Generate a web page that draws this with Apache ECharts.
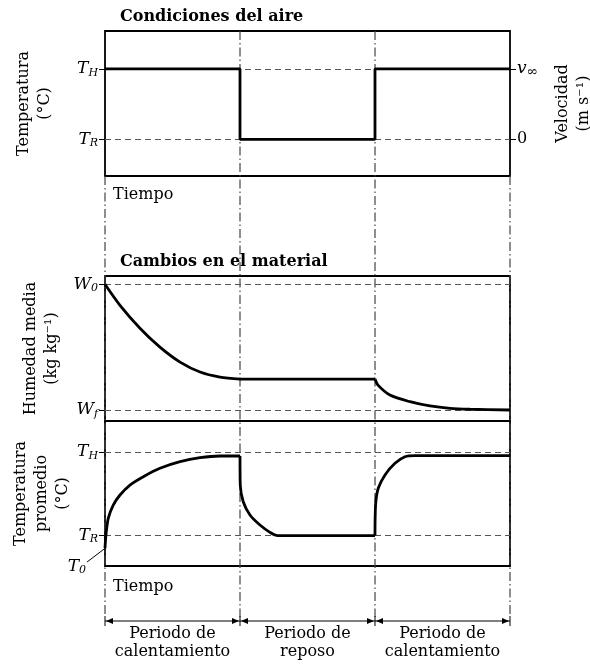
<!DOCTYPE html>
<html>
<head>
<meta charset="utf-8">
<script src="https://cdn.jsdelivr.net/npm/echarts@6/dist/echarts.min.js"></script>
<style>
  html, body { margin: 0; padding: 0; background: #fff; }
  #chart { width: 590px; height: 664px; }
</style>
</head>
<body>
<div id="chart"></div>
<script>
// time axis: one unit per period
const periodBounds = [0, 1, 2, 3];
const periodLabels = ['Periodo de\ncalentamiento', 'Periodo de\nreposo', 'Periodo de\ncalentamiento'];

// air conditions (1 = T_H / v∞, 0 = T_R / 0)
const airStep = [[0, 1], [1, 1], [1, 0], [2, 0], [2, 1], [3, 1]];

// mean moisture (1 = W0, 0 = Wf), one array per period
const moistureHeat1 = [
  [0, 1.0], [0.111, 0.833], [0.259, 0.651], [0.407, 0.5], [0.556, 0.381],
  [0.704, 0.302], [0.852, 0.262], [1, 0.246]
];
const moistureRest = [[1, 0.246], [2, 0.246]];
const moistureHeat2 = [
  [2, 0.246], [2.022, 0.198], [2.111, 0.119], [2.259, 0.066], [2.407, 0.032],
  [2.556, 0.013], [2.704, 0.006], [3, 0.0]
];

// mean material temperature (1 = T_H, 0 = T_R)
const t0Value = -0.15;
const tempHeat1 = [
  [0, t0Value], [0.007, 0.006], [0.024, 0.205], [0.061, 0.364], [0.111, 0.484],
  [0.185, 0.603], [0.284, 0.703], [0.407, 0.803], [0.556, 0.882], [0.704, 0.93],
  [0.852, 0.95], [1, 0.95]
];
const tempRest = [
  [1, 0.95], [1.002, 0.603], [1.024, 0.404], [1.074, 0.245], [1.148, 0.125],
  [1.222, 0.038], [1.28, 0], [2, 0]
];
const tempHeat2 = [
  [2, 0], [2.001, 0.2], [2.006, 0.4], [2.024, 0.564], [2.074, 0.723], [2.148, 0.863],
  [2.222, 0.941], [2.296, 0.955], [3, 0.955]
];

const FONT = 'DejaVu Serif';
const INK = '#000';
const GUIDE = '#555';

const chartDom = document.getElementById('chart');
const myChart = echarts.init(chartDom);

const rich = {
  i: { fontFamily: FONT, fontStyle: 'italic', fontSize: 17, color: INK },
  s: { fontFamily: FONT, fontStyle: 'italic', fontSize: 11, color: INK, padding: [8, 0, 0, 0] },
  inf: { fontFamily: FONT, fontSize: 14, color: INK, padding: [7, 0, 0, 0] },
  n: { fontFamily: FONT, fontSize: 16, color: INK }
};

const nameStyle = { fontFamily: FONT, fontSize: 16, color: INK, lineHeight: 21 };

function symLabel(a, b) {
  return (v) => v >= 0.5 ? a : b;
}

function yAxis(grid, min, max, name, gap, fmt, position) {
  return {
    type: 'value',
    gridIndex: grid,
    position: position || 'left',
    min: min,
    max: max,
    name: name,
    nameLocation: 'middle',
    nameRotate: 90,
    nameGap: gap,
    nameMoveOverlap: false,
    nameTextStyle: nameStyle,
    axisLine: { show: false },
    splitLine: { show: false },
    axisTick: { show: true, length: 6, customValues: [0, 1], lineStyle: { color: INK, width: 1 } },
    axisLabel: { customValues: [0, 1], margin: 7, formatter: fmt, rich: rich }
  };
}

function xAxis(grid) {
  return {
    type: 'value', gridIndex: grid, min: 0, max: 3,
    axisLine: { show: false }, axisTick: { show: false },
    axisLabel: { show: false }, splitLine: { show: false }
  };
}

function panel(top) {
  return {
    left: 105, width: 405, top: top, height: 145,
    show: true, borderColor: INK, borderWidth: 1.8,
    containLabel: false, outerBoundsMode: 'none'
  };
}

const dashed = {
  silent: true,
  symbol: ['none', 'none'],
  label: { show: false },
  lineStyle: { type: [6, 4], color: GUIDE, width: 1 },
  data: [{ yAxis: 1 }, { yAxis: 0 }],
  animation: false
};

function lineSeries(data, xi, yi, smooth, guides) {
  const s = {
    type: 'line', data: data, xAxisIndex: xi, yAxisIndex: yi,
    symbol: 'none', smooth: smooth,
    lineStyle: { color: INK, width: 2.8 },
    animation: false, z: 5
  };
  if (guides) s.markLine = dashed;
  return s;
}

const option = {
  animation: false,
  title: [
    { text: 'Condiciones del aire', left: 115, top: 4,
      textStyle: { fontFamily: FONT, fontWeight: 'bold', fontSize: 16, color: INK } },
    { text: 'Cambios en el material', left: 115, top: 249,
      textStyle: { fontFamily: FONT, fontWeight: 'bold', fontSize: 16, color: INK } }
  ],
  grid: [panel(31), panel(276), panel(421)],
  xAxis: [xAxis(0), xAxis(1), xAxis(2)],
  yAxis: [
    yAxis(0, -0.522, 1.54, 'Temperatura\n(°C)', 50, symLabel('{i|T}{s|H}', '{i|T}{s|R}')),
    yAxis(0, -0.522, 1.54, 'Velocidad\n(m s⁻¹)', 42, symLabel('{i|v}{inf|∞}', '{n|0}'), 'right'),
    yAxis(1, -0.0875, 1.066, 'Humedad media\n(kg kg⁻¹)', 43, symLabel('{i|W}{s|0}', '{i|W}{s|f}')),
    yAxis(2, -0.364, 1.368, 'Temperatura\npromedio\n(°C)', 32, symLabel('{i|T}{s|H}', '{i|T}{s|R}'))
  ],
  series: [
    lineSeries(airStep, 0, 0, false, true),
    lineSeries(moistureHeat1, 1, 2, 0.3, true),
    lineSeries(moistureRest, 1, 2, false, false),
    lineSeries(moistureHeat2, 1, 2, 0.3, false),
    lineSeries(tempHeat1, 2, 3, 0.3, true),
    lineSeries(tempRest, 2, 3, 0.3, false),
    lineSeries(tempHeat2, 2, 3, 0.3, false)
  ]
};

myChart.setOption(option);

// decorations placed from the axes: period separators, arrows, labels
const px = (g, x, y) => myChart.convertToPixel({ gridIndex: g }, [x, y]);
const topY = px(0, 0, 1.54)[1];
const panelBottom = px(0, 0, -0.522)[1];
const arrowY = 621;
const dashDot = { stroke: '#444', lineWidth: 1.2, lineDash: [9, 3, 1.5, 3] };
const textStyle = { fontFamily: FONT, fontSize: 16, fill: INK };

const graphics = [];
periodBounds.forEach((t) => {
  const x = px(2, t, 0)[0];
  const y1 = (t === 0 || t === 3) ? panelBottom : topY;
  graphics.push({ type: 'line', shape: { x1: x, y1: y1, x2: x, y2: arrowY - 4 }, style: dashDot, z: 1, silent: true });
  graphics.push({ type: 'line', shape: { x1: x, y1: arrowY - 5, x2: x, y2: arrowY + 5 }, style: { stroke: INK, lineWidth: 1 }, z: 3 });
});

for (let k = 0; k < periodLabels.length; k++) {
  const xa = px(2, periodBounds[k], 0)[0];
  const xb = px(2, periodBounds[k + 1], 0)[0];
  graphics.push({ type: 'line', shape: { x1: xa, y1: arrowY, x2: xb, y2: arrowY }, style: { stroke: INK, lineWidth: 1 }, z: 3 });
  graphics.push({ type: 'polygon', shape: { points: [[xa + 1, arrowY], [xa + 8, arrowY - 3], [xa + 8, arrowY + 3]] }, style: { fill: INK }, z: 3 });
  graphics.push({ type: 'polygon', shape: { points: [[xb - 1, arrowY], [xb - 8, arrowY - 3], [xb - 8, arrowY + 3]] }, style: { fill: INK }, z: 3 });
  graphics.push({
    type: 'text', x: (xa + xb) / 2, y: 643, z: 3,
    style: Object.assign({ text: periodLabels[k], align: 'center', verticalAlign: 'middle', lineHeight: 18 }, textStyle)
  });
}

// "Tiempo" under the air panel and the material panel
const x0 = px(0, 0, 0)[0];
graphics.push({ type: 'text', x: x0 + 8, y: 195, z: 3, style: Object.assign({ text: 'Tiempo', verticalAlign: 'middle' }, textStyle) });
graphics.push({ type: 'text', x: x0 + 8, y: px(2, 0, -0.364)[1] + 21, z: 3, style: Object.assign({ text: 'Tiempo', verticalAlign: 'middle' }, textStyle) });

// T0 leader
const p0 = px(2, 0, t0Value);
graphics.push({ type: 'line', shape: { x1: p0[0] - 1, y1: p0[1] + 1, x2: p0[0] - 18, y2: p0[1] + 14 }, style: { stroke: INK, lineWidth: 1 }, z: 3 });
graphics.push({
  type: 'text', x: p0[0] - 19, y: p0[1] + 18, z: 3,
  style: { text: '{i|T}{s|0}', rich: rich, align: 'right', verticalAlign: 'middle' }
});

myChart.setOption({ graphic: graphics });
</script>
</body>
</html>
